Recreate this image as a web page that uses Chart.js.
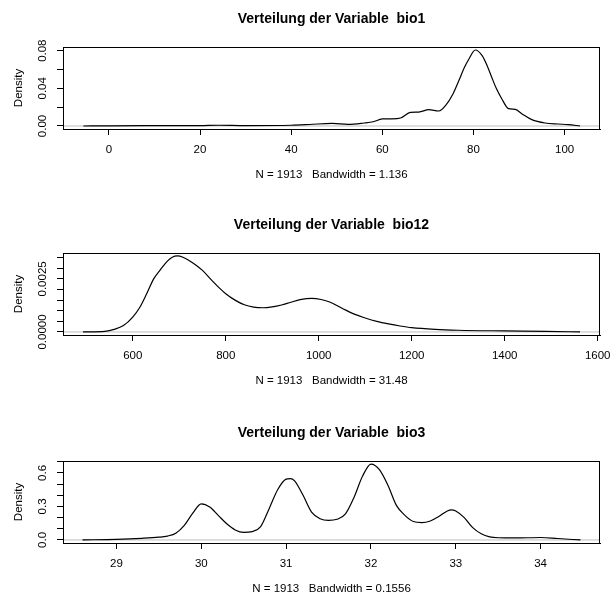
<!DOCTYPE html>
<html lang="de">
<head>
  <meta charset="UTF-8">
  <title>Verteilung der Variablen</title>
  <script src="https://cdn.jsdelivr.net/npm/chart.js"></script>
  <style>
    html, body { margin: 0; padding: 0; background: #fff; overflow: hidden; }
    .panel { position: absolute; left: 0; }
  </style>
</head>
<body>
  <canvas id="bio1Chart" class="panel" width="612" height="207" style="top:0px"></canvas>
  <canvas id="bio12Chart" class="panel" width="612" height="207" style="top:206px"></canvas>
  <canvas id="bio3Chart" class="panel" width="612" height="207" style="top:414px"></canvas>

  <script>
    // bio1 density
    const bio1X = [-5.6, 0, 10, 20, 24, 30, 40, 44, 49, 52.5, 56, 58, 60, 62, 64, 66.2, 68, 70.2, 72.4, 73.9, 75.5, 76.8, 78, 79, 80.4, 81.9, 83, 84, 85, 86.2, 87.7, 89.2, 90.6, 92.8, 95.7, 98.6, 100.8, 103.4];
    const bio1Y = [0, 0.0002, 0.0003, 0.0004, 0.0008, 0.0004, 0.0008, 0.0016, 0.0028, 0.0018, 0.0032, 0.0045, 0.0075, 0.0076, 0.0085, 0.0145, 0.0148, 0.0173, 0.0159, 0.0219, 0.034, 0.0483, 0.062, 0.0712, 0.0807, 0.0747, 0.064, 0.0518, 0.040, 0.029, 0.0184, 0.0176, 0.0131, 0.0068, 0.0032, 0.0021, 0.0015, 0];
    const bio1XTicks = [0, 20, 40, 60, 80, 100];
    const bio1YTicks = [0, 0.02, 0.04, 0.06, 0.08];
    const bio1YLabels = ['0.00', '', '0.04', '', '0.08'];
    const bio1XLim = [-10.06, 107.76];
    const bio1YLim = [-0.0032, 0.0839];

    // bio12 density
    const bio12X = [493, 540, 560, 580, 600, 615, 630, 645, 660, 675, 685, 696, 708, 720, 734, 750, 768, 785, 800, 820, 840, 860, 880, 900, 920, 940, 960, 985, 1005, 1025, 1050, 1075, 1100, 1125, 1150, 1175, 1200, 1250, 1300, 1400, 1488, 1562];
    const bio12Y = [0, 0.00003, 0.00012, 0.0003, 0.0007, 0.00115, 0.0018, 0.0025, 0.00295, 0.00335, 0.00352, 0.00358, 0.00352, 0.00338, 0.00318, 0.0029, 0.00248, 0.0021, 0.0018, 0.0015, 0.00128, 0.00117, 0.00114, 0.00118, 0.00127, 0.0014, 0.00152, 0.00158, 0.00153, 0.0014, 0.00112, 0.00085, 0.00066, 0.0005, 0.00038, 0.00028, 0.0002, 0.00012, 0.00008, 0.00005, 0.00003, 0];
    const bio12XTicks = [600, 800, 1000, 1200, 1400, 1600];
    const bio12YTicks = [0, 0.0005, 0.001, 0.0015, 0.002, 0.0025, 0.003, 0.0035];
    const bio12YLabels = ['0.0000', '', '', '', '', '0.0025', '', ''];
    const bio12XLim = [450, 1605];
    const bio12YLim = [-0.000143, 0.00372];

    // bio3 density
    const bio3X = [28.6, 29.0, 29.3, 29.5, 29.6, 29.7, 29.8, 29.9, 30.0, 30.1, 30.2, 30.3, 30.4, 30.5, 30.6, 30.7, 30.8, 30.9, 31.0, 31.05, 31.1, 31.2, 31.3, 31.4, 31.5, 31.6, 31.7, 31.8, 31.9, 32.0, 32.1, 32.2, 32.3, 32.4, 32.5, 32.6, 32.7, 32.8, 32.9, 32.95, 33.0, 33.1, 33.2, 33.3, 33.4, 33.5, 33.7, 34.0, 34.2, 34.47];
    const bio3Y = [0, 0.006, 0.015, 0.025, 0.035, 0.06, 0.13, 0.24, 0.324, 0.295, 0.22, 0.145, 0.09, 0.068, 0.075, 0.12, 0.28, 0.45, 0.545, 0.55, 0.53, 0.40, 0.25, 0.19, 0.175, 0.185, 0.234, 0.38, 0.57, 0.68, 0.63, 0.49, 0.31, 0.22, 0.165, 0.155, 0.17, 0.21, 0.26, 0.27, 0.26, 0.20, 0.11, 0.055, 0.028, 0.02, 0.018, 0.022, 0.013, 0];
    const bio3XTicks = [29, 30, 31, 32, 33, 34];
    const bio3YTicks = [0, 0.1, 0.2, 0.3, 0.4, 0.5, 0.6, 0.7];
    const bio3YLabels = ['0.0', '', '', '0.3', '', '', '0.6', ''];
    const bio3XLim = [28.37, 34.70];
    const bio3YLim = [-0.0272, 0.7072];

    const titles = ['Verteilung der Variable  bio1', 'Verteilung der Variable  bio12', 'Verteilung der Variable  bio3'];
    const subLabels = ['N = 1913   Bandwidth = 1.136', 'N = 1913   Bandwidth = 31.48', 'N = 1913   Bandwidth = 0.1556'];

    const FONT = '"Liberation Sans", Arial, Helvetica, sans-serif';
    Chart.defaults.color = '#000';
    Chart.defaults.font.family = FONT;

    // box around the plot region + rotated y tick labels (R style)
    const rStyle = {
      id: 'rStyle',
      afterDatasetsDraw(chart) {
        const a = chart.chartArea;
        const ctx = chart.ctx;
        ctx.save();
        ctx.strokeStyle = '#000';
        ctx.lineWidth = 1;
        ctx.strokeRect(a.left + 0.5, a.top + 0.5, a.right - a.left - 1, a.bottom - a.top);
        ctx.restore();
      },
      afterDraw(chart, args, opts) {
        const ys = chart.scales.y;
        const ctx = chart.ctx;
        ctx.save();
        ctx.fillStyle = '#000';
        ctx.font = '11.5px ' + FONT;
        ctx.textAlign = 'center';
        ctx.textBaseline = 'middle';
        ys.ticks.forEach((t, i) => {
          const lab = opts.labels[i];
          if (!lab) return;
          ctx.save();
          ctx.translate(opts.labelX, ys.getPixelForValue(t.value));
          ctx.rotate(-Math.PI / 2);
          ctx.fillText(lab, 0, 0);
          ctx.restore();
        });
        ctx.restore();
      }
    };

    function makeDensityChart(id, title, sub, xs, ys, xTicks, yTicks, yLabels, xLim, yLim) {
      const points = xs.map((x, i) => ({ x: x, y: ys[i] }));
      const zeroLine = [{ x: xLim[0], y: 0 }, { x: xLim[1], y: 0 }];
      return new Chart(document.getElementById(id).getContext('2d'), {
        type: 'line',
        data: {
          datasets: [
            { data: points, borderColor: '#000', borderWidth: 1.2, pointRadius: 0, fill: false, cubicInterpolationMode: 'monotone', order: 1 },
            { data: zeroLine, borderColor: '#bebebe', borderWidth: 1, pointRadius: 0, fill: false, order: 2 }
          ]
        },
        options: {
          responsive: false,
          animation: false,
          events: [],
          layout: { padding: { left: 0, right: 12, top: 0, bottom: 0 } },
          plugins: {
            legend: { display: false },
            tooltip: { enabled: false },
            title: {
              display: true,
              text: title,
              fullSize: false,
              font: { size: 14, weight: 'bold', family: FONT },
              padding: { top: 10.6, bottom: 19.6 }
            },
            rStyle: { labels: yLabels, labelX: 43 }
          },
          scales: {
            x: {
              type: 'linear',
              min: xLim[0],
              max: xLim[1],
              afterBuildTicks: s => { s.ticks = xTicks.map(v => ({ value: v })); },
              afterFit: s => { s.height = 78; s.paddingLeft = 0; s.paddingRight = 0; },
              ticks: { autoSkip: false, maxRotation: 0, padding: 8, font: { size: 11.5 }, callback: v => String(v) },
              grid: { drawOnChartArea: false, drawTicks: true, tickLength: 6, color: '#000' },
              border: { display: true, color: '#000' },
              title: { display: true, text: sub, font: { size: 11.5 }, padding: { top: 0, bottom: 25 } }
            },
            y: {
              type: 'linear',
              min: yLim[0],
              max: yLim[1],
              afterBuildTicks: s => { s.ticks = yTicks.map(v => ({ value: v })); },
              afterFit: s => { s.width = 63; s.paddingTop = 0; s.paddingBottom = 0; },
              ticks: { display: false },
              grid: { drawOnChartArea: false, drawTicks: true, tickLength: 6, color: '#000' },
              border: { display: true, color: '#000' },
              title: { display: true, text: 'Density', font: { size: 11.5 }, padding: { top: 12, bottom: 0 } }
            }
          }
        },
        plugins: [rStyle]
      });
    }

    makeDensityChart('bio1Chart', titles[0], subLabels[0], bio1X, bio1Y, bio1XTicks, bio1YTicks, bio1YLabels, bio1XLim, bio1YLim);
    makeDensityChart('bio12Chart', titles[1], subLabels[1], bio12X, bio12Y, bio12XTicks, bio12YTicks, bio12YLabels, bio12XLim, bio12YLim);
    makeDensityChart('bio3Chart', titles[2], subLabels[2], bio3X, bio3Y, bio3XTicks, bio3YTicks, bio3YLabels, bio3XLim, bio3YLim);
  </script>
</body>
</html>
